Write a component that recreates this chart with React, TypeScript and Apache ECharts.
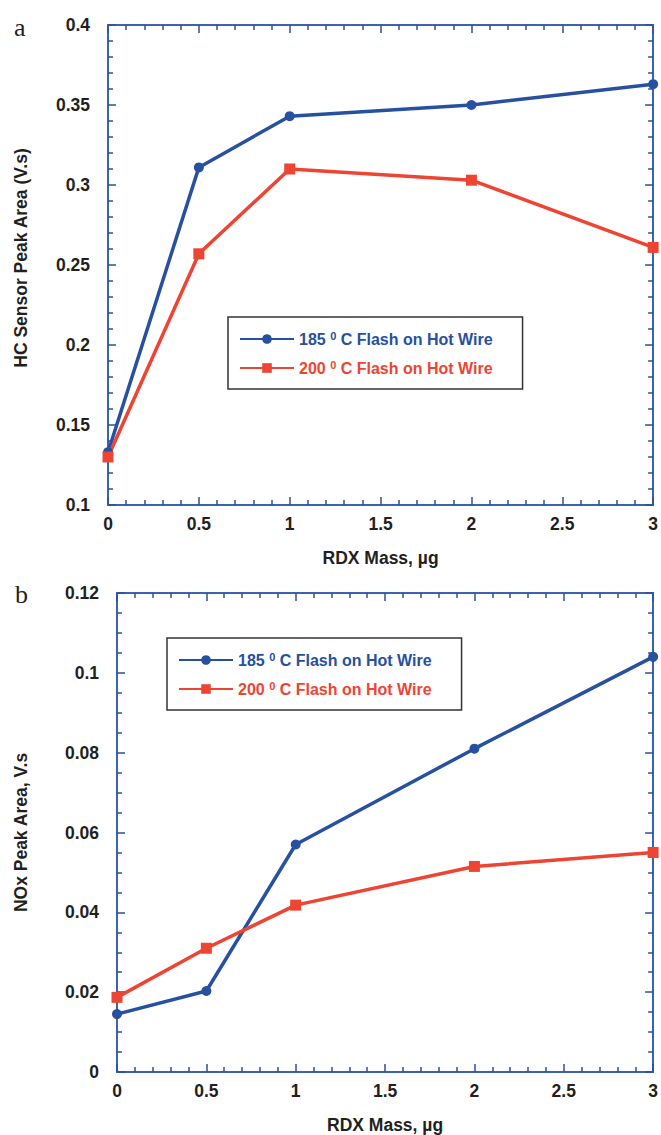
import React, { useEffect, useRef } from "react";
import * as echarts from "echarts";

// RDX mass (µg) at each measurement
const rdxMass = [0, 0.5, 1, 2, 3];

// Panel a: HC sensor peak area (V.s)
const hc185 = [0.133, 0.311, 0.343, 0.35, 0.363];
const hc200 = [0.13, 0.257, 0.31, 0.303, 0.261];

// Panel b: NOx peak area (V.s)
const nox185 = [0.0145, 0.0203, 0.057, 0.081, 0.104];
const nox200 = [0.0187, 0.031, 0.0418, 0.0515, 0.055];

const series185 = "185 C Flash on Hot Wire";
const series200 = "200 C Flash on Hot Wire";

const BLUE = "#2850a0";
const RED = "#ee4433";
const AXIS = "#3d63b0";
const TEXT = "#231f20";
const FONT = "'Liberation Sans', Arial, sans-serif";

const pairs = (xs: number[], ys: number[]) => xs.map((x, i) => [x, ys[i]]);

function frameAxis(kind: "x" | "y", pos: string, gridIndex: number, min: number, max: number, interval: number, minorSplit: number, labeled: boolean, name?: string, nameGap?: number, namePad?: number[]) {
  return {
    type: "value",
    gridIndex,
    position: pos,
    min,
    max,
    interval,
    splitLine: { show: false },
    axisLine: { show: true, onZero: false, lineStyle: { color: AXIS, width: 2 } },
    axisTick: { show: true, inside: true, length: 8, lineStyle: { color: BLUE, width: 1.5 } },
    minorTick: { show: true, splitNumber: minorSplit, length: 5, lineStyle: { color: BLUE, width: 1.5 } },
    axisLabel: {
      show: labeled,
      color: TEXT,
      fontFamily: FONT,
      fontWeight: "bold",
      fontSize: 17.5,
      margin: kind === "x" ? 10 : 18,
    },
    name: labeled ? name : undefined,
    nameLocation: "middle",
    nameGap,
    nameTextStyle: { color: TEXT, fontFamily: FONT, fontWeight: "bold", fontSize: 17.5, padding: namePad || 0 },
  };
}

function legendBlock(left: number, top: number) {
  return {
    left,
    top,
    orient: "vertical",
    borderColor: "#333333",
    borderWidth: 1.5,
    padding: [13, 30, 11, 11],
    itemGap: 10,
    itemWidth: 54,
    itemHeight: 12,
    selectedMode: false,
    formatter: (n: string) => `{n|${n.slice(0, 3)} }{s|0}{n| ${n.slice(4)}}`,
    textStyle: {
      fontFamily: FONT,
      fontWeight: "bold",
      fontSize: 16,
      rich: {
        n: { fontFamily: FONT, fontWeight: "bold", fontSize: 16, lineHeight: 18 },
        s: { fontFamily: FONT, fontWeight: "bold", fontSize: 11, verticalAlign: "top", lineHeight: 18, padding: [0, 0, 8, 0] },
      },
    },
    data: [
      { name: series185, textStyle: { color: BLUE } },
      { name: series200, textStyle: { color: RED } },
    ],
  };
}

function lineSeries(name: string, xi: number, yi: number, data: number[][], color: string, symbol: string, size: number) {
  return {
    name,
    type: "line",
    xAxisIndex: xi,
    yAxisIndex: yi,
    data,
    symbol,
    symbolSize: size,
    lineStyle: { color, width: 3.5 },
    itemStyle: { color },
  };
}

export default function App() {
  const ref = useRef<HTMLDivElement>(null);

  useEffect(() => {
    if (!ref.current) return;
    const chart = echarts.init(ref.current, null, { renderer: "svg" });
    chart.setOption({
      animation: false,
      backgroundColor: "#ffffff",
      grid: [
        { left: 108, top: 25, width: 548, height: 480 },
        { left: 117, top: 593, width: 539, height: 479 },
      ],
      xAxis: [
        frameAxis("x", "bottom", 0, 0, 3, 0.5, 5, true, "RDX Mass, µg", 44),
        frameAxis("x", "top", 0, 0, 3, 0.5, 5, false),
        frameAxis("x", "bottom", 1, 0, 3, 0.5, 5, true, "RDX Mass, µg", 44),
        frameAxis("x", "top", 1, 0, 3, 0.5, 5, false),
      ],
      yAxis: [
        frameAxis("y", "left", 0, 0.1, 0.4, 0.05, 5, true, "HC Sensor Peak Area (V.s)", 78, [0, 0, 0, 14]),
        frameAxis("y", "right", 0, 0.1, 0.4, 0.05, 5, false),
        frameAxis("y", "left", 1, 0, 0.12, 0.02, 4, true, "NOx Peak Area, V.s", 87),
        frameAxis("y", "right", 1, 0, 0.12, 0.02, 4, false),
      ],
      legend: [legendBlock(228, 317), legendBlock(167, 638)],
      series: [
        lineSeries(series185, 0, 0, pairs(rdxMass, hc185), BLUE, "circle", 10),
        lineSeries(series200, 0, 0, pairs(rdxMass, hc200), RED, "rect", 11),
        lineSeries(series185, 2, 2, pairs(rdxMass, nox185), BLUE, "circle", 10),
        lineSeries(series200, 2, 2, pairs(rdxMass, nox200), RED, "rect", 11),
      ],
      graphic: [
        { type: "text", left: 14, top: 14, style: { text: "a", fontFamily: "'Liberation Serif', serif", fontSize: 26, fill: TEXT } },
        { type: "text", left: 15, top: 581, style: { text: "b", fontFamily: "'Liberation Serif', serif", fontSize: 26, fill: TEXT } },
      ],
    });
    return () => chart.dispose();
  }, []);

  return <div ref={ref} style={{ position: "absolute", left: 0, top: 0, width: 661, height: 1135 }} />;
}
